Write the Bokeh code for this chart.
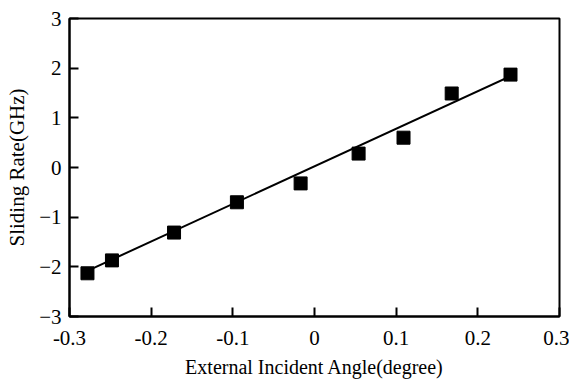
from bokeh.plotting import figure
from bokeh.models import Range1d, FixedTicker
from bokeh.embed import file_html
from bokeh.resources import INLINE

# data
angle = [-0.278, -0.248, -0.172, -0.095, -0.017, 0.054, 0.109, 0.168, 0.240]
rate = [-2.13, -1.87, -1.31, -0.70, -0.32, 0.28, 0.60, 1.49, 1.87]
fit_x = [-0.278, 0.240]
fit_y = [-2.08, 1.84]
x_ticks = [-0.3, -0.2, -0.1, 0.0, 0.1, 0.2, 0.3]
y_ticks = [-3, -2, -1, 0, 1, 2, 3]

FONT = "Liberation Serif"

p = figure(width=569, height=383, output_backend="svg", toolbar_location=None,
           x_range=Range1d(-0.3, 0.3), y_range=Range1d(-3, 3),
           min_border_left=69, min_border_right=10, min_border_top=18, min_border_bottom=67)
p.background_fill_color = "white"
p.border_fill_color = "white"
p.xgrid.visible = False
p.ygrid.visible = False
p.outline_line_color = "black"
p.outline_line_width = 2
p.outline_line_alpha = 1

p.line(fit_x, fit_y, line_color="black", line_width=2)
p.scatter(angle, rate, marker="square", size=13, fill_color="black", line_color="black")

for ax in (p.xaxis[0], p.yaxis[0]):
    ax.axis_line_width = 2
    ax.axis_line_color = "black"
    ax.major_tick_line_width = 2
    ax.major_tick_line_color = "black"
    ax.major_tick_in = 9
    ax.major_tick_out = 0
    ax.minor_tick_line_color = None
    ax.major_label_text_font = FONT
    ax.major_label_text_font_size = "21px"
    ax.major_label_text_color = "black"
    ax.axis_label_text_font = FONT
    ax.axis_label_text_font_style = "normal"
    ax.axis_label_text_color = "black"

p.xaxis.axis_label_text_font_size = "20px"
p.yaxis.axis_label_text_font_size = "21px"
p.xaxis.ticker = FixedTicker(ticks=x_ticks)
p.yaxis.ticker = FixedTicker(ticks=y_ticks)
p.xaxis.major_label_overrides = {-0.3: "-0.3", -0.2: "-0.2", -0.1: "-0.1", 0.0: "0",
                                 0.1: "0.1", 0.2: "0.2", 0.3: "0.3"}
p.xaxis.axis_label = "External Incident Angle(degree)"
p.yaxis.axis_label = "Sliding Rate(GHz)"
p.xaxis.major_label_standoff = 14
p.xaxis.axis_label_standoff = 8
p.yaxis.major_label_standoff = 8
p.yaxis.axis_label_standoff = 7

open("out.html", "w").write(file_html(p, INLINE))
